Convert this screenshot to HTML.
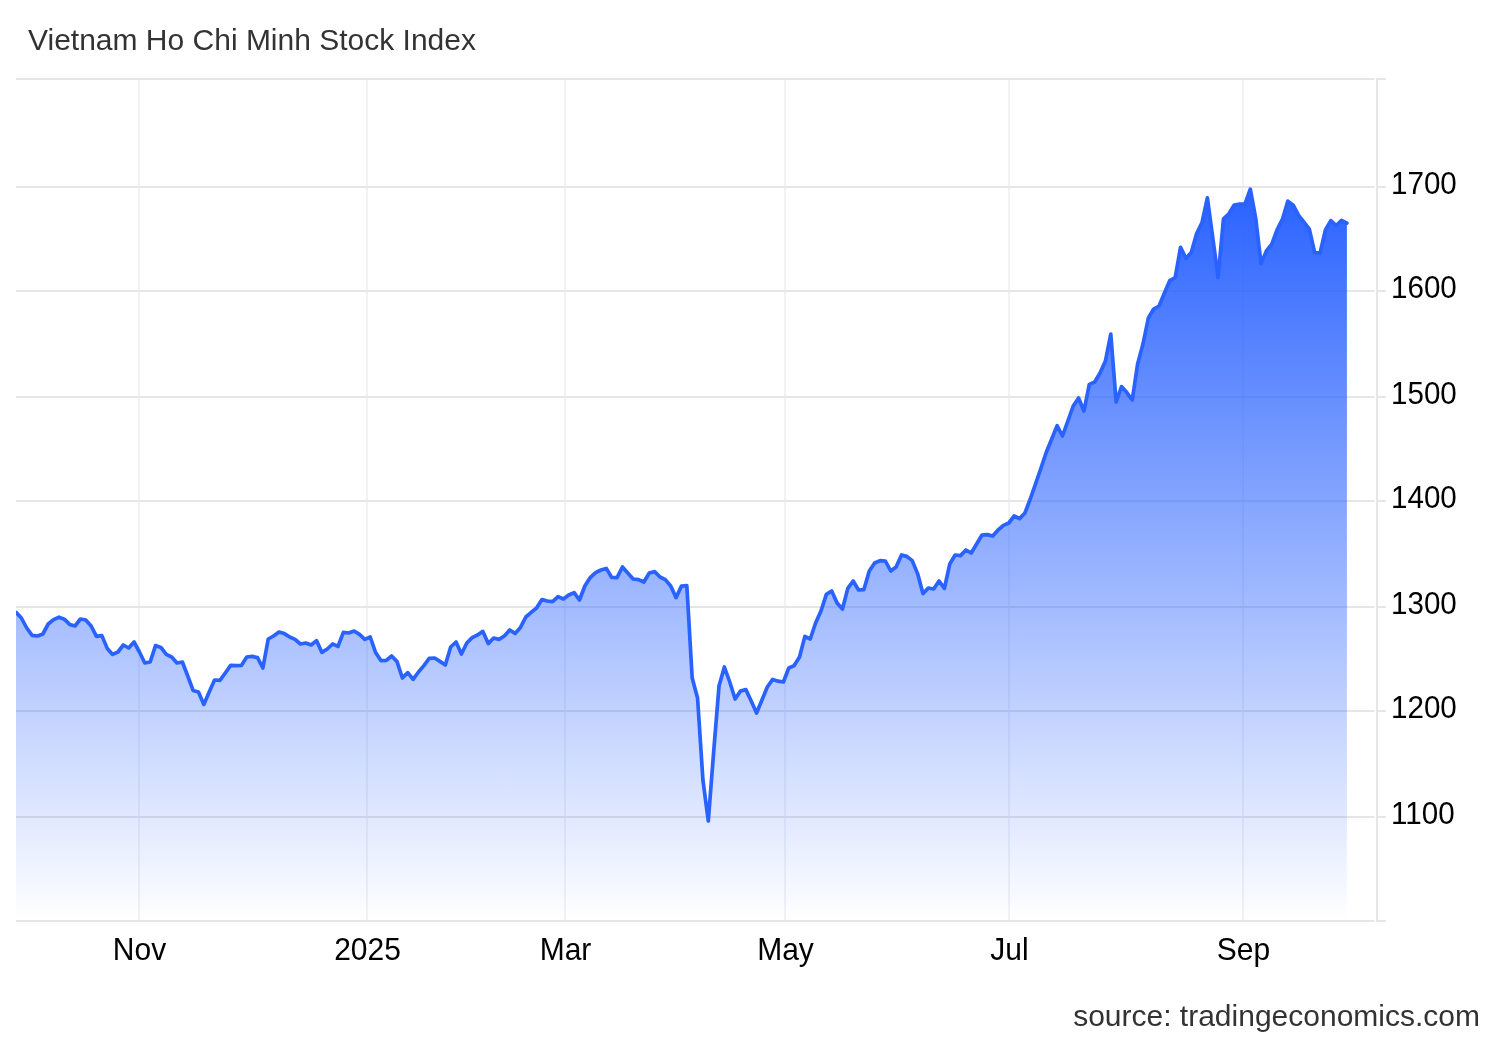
<!DOCTYPE html>
<html lang="en"><head><meta charset="utf-8"><title>Vietnam Ho Chi Minh Stock Index</title>
<style>
html,body{margin:0;padding:0;background:#fff;}
body{width:1500px;height:1040px;overflow:hidden;font-family:"Liberation Sans",Arial,sans-serif;}
svg{display:block;position:absolute;left:0;top:0;}
svg text{font-family:"Liberation Sans",Arial,sans-serif;}
</style></head><body>
<svg width="1500" height="1040" viewBox="0 0 1500 1040">
<defs><linearGradient id="g" gradientUnits="userSpaceOnUse" x1="0" y1="189.2" x2="0" y2="921">
<stop offset="0" stop-color="#2962ff" stop-opacity="1"/><stop offset="1" stop-color="#2962ff" stop-opacity="0"/></linearGradient><clipPath id="cp"><rect x="16" y="60" width="1400" height="880"/></clipPath></defs>
<rect width="1500" height="1040" fill="#fff"/>
<text x="28" y="49.5" font-size="30" fill="#333">Vietnam Ho Chi Minh Stock Index</text>
<g stroke="#f0f2f6" stroke-width="2" fill="none">
<path d="M139 79 V921"/>
<path d="M367 79 V921"/>
<path d="M565 79 V921"/>
<path d="M785 79 V921"/>
<path d="M1009 79 V921"/>
<path d="M1243 79 V921"/>
</g><g stroke="#e6e6e6" stroke-width="2" fill="none">
<path d="M16 79 H1374.4 M1376 79 H1386"/>
<path d="M16 187 H1374.4 M1376 187 H1386"/>
<path d="M16 291 H1374.4 M1376 291 H1386"/>
<path d="M16 397 H1374.4 M1376 397 H1386"/>
<path d="M16 501 H1374.4 M1376 501 H1386"/>
<path d="M16 607 H1374.4 M1376 607 H1386"/>
<path d="M16 711 H1374.4 M1376 711 H1386"/>
<path d="M16 817 H1374.4 M1376 817 H1386"/>
<path d="M16 921 H1374.4 M1376 921 H1386"/>
<path d="M1377 78 V922"/>
</g>
<path d="M16.0 612.4 L21.37 618.0 L26.73 628.0 L32.1 635.4 L37.47 636.0 L42.83 634.0 L48.2 624.0 L53.57 619.6 L58.93 617.2 L64.3 619.2 L69.67 624.4 L75.03 626.0 L80.4 619.0 L85.76 620.0 L91.13 626.0 L96.5 636.4 L101.86 635.6 L107.23 648.4 L112.6 654.4 L117.96 652.0 L123.33 645.0 L128.7 648.0 L134.06 642.0 L139.43 652.0 L144.8 663.0 L150.16 662.0 L155.53 645.6 L160.9 647.4 L166.26 654.4 L171.63 657.0 L177.0 663.0 L182.36 662.0 L187.73 676.0 L193.1 690.4 L198.46 692.0 L203.83 704.4 L209.2 692.0 L214.56 680.0 L219.93 680.4 L225.29 673.0 L230.66 665.4 L236.03 665.6 L241.39 665.4 L246.76 657.0 L252.13 656.4 L257.49 657.6 L262.86 668.0 L268.23 639.0 L273.59 636.0 L278.96 632.0 L284.33 633.6 L289.69 637.0 L295.06 639.4 L300.43 644.0 L305.79 643.0 L311.16 645.0 L316.53 640.6 L321.89 652.4 L327.26 649.0 L332.63 644.0 L337.99 646.4 L343.36 632.4 L348.73 633.0 L354.09 631.0 L359.46 634.4 L364.82 639.4 L370.19 637.0 L375.56 652.4 L380.92 660.6 L386.29 660.4 L391.66 656.0 L397.02 661.6 L402.39 678.0 L407.76 672.6 L413.12 679.4 L418.49 672.0 L423.86 665.6 L429.22 658.4 L434.59 658.0 L439.96 661.4 L445.32 665.0 L450.69 647.0 L456.06 642.0 L461.42 654.0 L466.79 643.0 L472.16 637.6 L477.52 635.0 L482.89 631.4 L488.25 643.6 L493.62 638.0 L498.99 639.4 L504.35 636.0 L509.72 630.0 L515.09 633.4 L520.45 627.4 L525.82 617.0 L531.19 612.4 L536.55 608.0 L541.92 599.6 L547.29 601.0 L552.65 601.6 L558.02 596.6 L563.39 599.0 L568.75 595.0 L574.12 592.6 L579.49 600.0 L584.85 586.0 L590.22 577.6 L595.59 572.6 L600.95 570.0 L606.32 568.4 L611.69 577.4 L617.05 577.6 L622.42 567.0 L627.78 573.0 L633.15 579.0 L638.52 579.6 L643.88 582.0 L649.25 573.0 L654.62 571.6 L659.98 577.0 L665.35 579.6 L670.72 586.0 L676.08 597.6 L681.45 586.0 L686.82 585.6 L692.18 678.0 L697.55 698.0 L702.92 780.0 L708.28 821.0 L713.65 752.0 L719.02 686.0 L724.38 667.0 L729.75 682.0 L735.12 699.0 L740.48 691.0 L745.85 689.6 L751.21 701.0 L756.58 713.0 L761.95 700.0 L767.31 687.0 L772.68 679.4 L778.05 681.2 L783.41 682.0 L788.78 668.0 L794.15 665.6 L799.51 657.0 L804.88 636.4 L810.25 639.0 L815.61 623.0 L820.98 611.0 L826.35 594.4 L831.71 591.0 L837.08 603.0 L842.45 609.0 L847.81 588.4 L853.18 581.0 L858.55 590.0 L863.91 589.6 L869.28 571.0 L874.65 563.0 L880.01 560.6 L885.38 561.0 L890.74 571.0 L896.11 567.0 L901.48 555.0 L906.84 556.4 L912.21 560.6 L917.58 573.6 L922.94 593.6 L928.31 588.0 L933.68 589.0 L939.04 581.0 L944.41 588.4 L949.78 564.0 L955.14 555.0 L960.51 555.6 L965.88 550.0 L971.24 553.0 L976.61 544.0 L981.98 535.0 L987.34 534.6 L992.71 536.0 L998.08 530.0 L1003.44 525.4 L1008.81 523.0 L1014.18 516.0 L1019.54 518.6 L1024.91 513.0 L1030.27 499.0 L1035.64 483.6 L1041.01 468.0 L1046.37 452.0 L1051.74 439.0 L1057.11 425.6 L1062.47 436.0 L1067.84 421.0 L1073.21 406.0 L1078.57 398.0 L1083.94 411.0 L1089.31 384.4 L1094.67 382.0 L1100.04 373.0 L1105.41 361.0 L1110.77 334.0 L1116.14 402.0 L1121.51 386.6 L1126.87 392.6 L1132.24 400.0 L1137.61 364.0 L1142.97 344.0 L1148.34 318.0 L1153.7 309.0 L1159.07 306.0 L1164.44 293.0 L1169.8 280.6 L1175.17 277.6 L1180.54 247.4 L1185.9 258.4 L1191.27 252.4 L1196.64 233.6 L1202.0 222.6 L1207.37 197.8 L1212.74 237.5 L1218.1 277.4 L1223.47 218.8 L1228.84 213.8 L1234.2 205.0 L1239.57 204.0 L1244.94 204.2 L1250.3 189.2 L1255.67 218.0 L1261.04 263.6 L1266.4 251.0 L1271.77 244.1 L1277.14 229.6 L1282.5 219.0 L1287.87 201.1 L1293.23 205.2 L1298.6 215.4 L1303.97 222.2 L1309.33 229.2 L1314.7 252.6 L1320.07 253.0 L1325.43 230.0 L1330.8 220.6 L1336.17 225.5 L1341.53 220.4 L1346.9 223.1 L1346.9 921 L16.0 921 Z" fill="url(#g)" stroke="none"/>
<path d="M16.0 612.4 L21.37 618.0 L26.73 628.0 L32.1 635.4 L37.47 636.0 L42.83 634.0 L48.2 624.0 L53.57 619.6 L58.93 617.2 L64.3 619.2 L69.67 624.4 L75.03 626.0 L80.4 619.0 L85.76 620.0 L91.13 626.0 L96.5 636.4 L101.86 635.6 L107.23 648.4 L112.6 654.4 L117.96 652.0 L123.33 645.0 L128.7 648.0 L134.06 642.0 L139.43 652.0 L144.8 663.0 L150.16 662.0 L155.53 645.6 L160.9 647.4 L166.26 654.4 L171.63 657.0 L177.0 663.0 L182.36 662.0 L187.73 676.0 L193.1 690.4 L198.46 692.0 L203.83 704.4 L209.2 692.0 L214.56 680.0 L219.93 680.4 L225.29 673.0 L230.66 665.4 L236.03 665.6 L241.39 665.4 L246.76 657.0 L252.13 656.4 L257.49 657.6 L262.86 668.0 L268.23 639.0 L273.59 636.0 L278.96 632.0 L284.33 633.6 L289.69 637.0 L295.06 639.4 L300.43 644.0 L305.79 643.0 L311.16 645.0 L316.53 640.6 L321.89 652.4 L327.26 649.0 L332.63 644.0 L337.99 646.4 L343.36 632.4 L348.73 633.0 L354.09 631.0 L359.46 634.4 L364.82 639.4 L370.19 637.0 L375.56 652.4 L380.92 660.6 L386.29 660.4 L391.66 656.0 L397.02 661.6 L402.39 678.0 L407.76 672.6 L413.12 679.4 L418.49 672.0 L423.86 665.6 L429.22 658.4 L434.59 658.0 L439.96 661.4 L445.32 665.0 L450.69 647.0 L456.06 642.0 L461.42 654.0 L466.79 643.0 L472.16 637.6 L477.52 635.0 L482.89 631.4 L488.25 643.6 L493.62 638.0 L498.99 639.4 L504.35 636.0 L509.72 630.0 L515.09 633.4 L520.45 627.4 L525.82 617.0 L531.19 612.4 L536.55 608.0 L541.92 599.6 L547.29 601.0 L552.65 601.6 L558.02 596.6 L563.39 599.0 L568.75 595.0 L574.12 592.6 L579.49 600.0 L584.85 586.0 L590.22 577.6 L595.59 572.6 L600.95 570.0 L606.32 568.4 L611.69 577.4 L617.05 577.6 L622.42 567.0 L627.78 573.0 L633.15 579.0 L638.52 579.6 L643.88 582.0 L649.25 573.0 L654.62 571.6 L659.98 577.0 L665.35 579.6 L670.72 586.0 L676.08 597.6 L681.45 586.0 L686.82 585.6 L692.18 678.0 L697.55 698.0 L702.92 780.0 L708.28 821.0 L713.65 752.0 L719.02 686.0 L724.38 667.0 L729.75 682.0 L735.12 699.0 L740.48 691.0 L745.85 689.6 L751.21 701.0 L756.58 713.0 L761.95 700.0 L767.31 687.0 L772.68 679.4 L778.05 681.2 L783.41 682.0 L788.78 668.0 L794.15 665.6 L799.51 657.0 L804.88 636.4 L810.25 639.0 L815.61 623.0 L820.98 611.0 L826.35 594.4 L831.71 591.0 L837.08 603.0 L842.45 609.0 L847.81 588.4 L853.18 581.0 L858.55 590.0 L863.91 589.6 L869.28 571.0 L874.65 563.0 L880.01 560.6 L885.38 561.0 L890.74 571.0 L896.11 567.0 L901.48 555.0 L906.84 556.4 L912.21 560.6 L917.58 573.6 L922.94 593.6 L928.31 588.0 L933.68 589.0 L939.04 581.0 L944.41 588.4 L949.78 564.0 L955.14 555.0 L960.51 555.6 L965.88 550.0 L971.24 553.0 L976.61 544.0 L981.98 535.0 L987.34 534.6 L992.71 536.0 L998.08 530.0 L1003.44 525.4 L1008.81 523.0 L1014.18 516.0 L1019.54 518.6 L1024.91 513.0 L1030.27 499.0 L1035.64 483.6 L1041.01 468.0 L1046.37 452.0 L1051.74 439.0 L1057.11 425.6 L1062.47 436.0 L1067.84 421.0 L1073.21 406.0 L1078.57 398.0 L1083.94 411.0 L1089.31 384.4 L1094.67 382.0 L1100.04 373.0 L1105.41 361.0 L1110.77 334.0 L1116.14 402.0 L1121.51 386.6 L1126.87 392.6 L1132.24 400.0 L1137.61 364.0 L1142.97 344.0 L1148.34 318.0 L1153.7 309.0 L1159.07 306.0 L1164.44 293.0 L1169.8 280.6 L1175.17 277.6 L1180.54 247.4 L1185.9 258.4 L1191.27 252.4 L1196.64 233.6 L1202.0 222.6 L1207.37 197.8 L1212.74 237.5 L1218.1 277.4 L1223.47 218.8 L1228.84 213.8 L1234.2 205.0 L1239.57 204.0 L1244.94 204.2 L1250.3 189.2 L1255.67 218.0 L1261.04 263.6 L1266.4 251.0 L1271.77 244.1 L1277.14 229.6 L1282.5 219.0 L1287.87 201.1 L1293.23 205.2 L1298.6 215.4 L1303.97 222.2 L1309.33 229.2 L1314.7 252.6 L1320.07 253.0 L1325.43 230.0 L1330.8 220.6 L1336.17 225.5 L1341.53 220.4 L1346.9 223.1" fill="none" stroke="#2962ff" stroke-width="3.7" clip-path="url(#cp)" stroke-linejoin="round" stroke-linecap="round"/>
<g font-size="29.6" fill="#000">
<text transform="translate(1391 193.9) scale(1 1.07)">1700</text>
<text transform="translate(1391 297.9) scale(1 1.07)">1600</text>
<text transform="translate(1391 403.9) scale(1 1.07)">1500</text>
<text transform="translate(1391 507.9) scale(1 1.07)">1400</text>
<text transform="translate(1391 613.9) scale(1 1.07)">1300</text>
<text transform="translate(1391 717.9) scale(1 1.07)">1200</text>
<text transform="translate(1391 823.9) scale(1 1.07)">1100</text>
</g><g font-size="30" fill="#000" text-anchor="middle">
<text transform="translate(139.5 960.2) scale(1 1.04)">Nov</text>
<text transform="translate(367.5 960.2) scale(1 1.07)">2025</text>
<text transform="translate(565.5 960.2) scale(1 1.04)">Mar</text>
<text transform="translate(785.5 960.2) scale(1 1.04)">May</text>
<text transform="translate(1009.5 960.2) scale(1 1.04)">Jul</text>
<text transform="translate(1243.5 960.2) scale(1 1.04)">Sep</text>
</g>
<text x="1480" y="1025.5" font-size="30" fill="#333" text-anchor="end">source: tradingeconomics.com</text>
</svg></body></html>
